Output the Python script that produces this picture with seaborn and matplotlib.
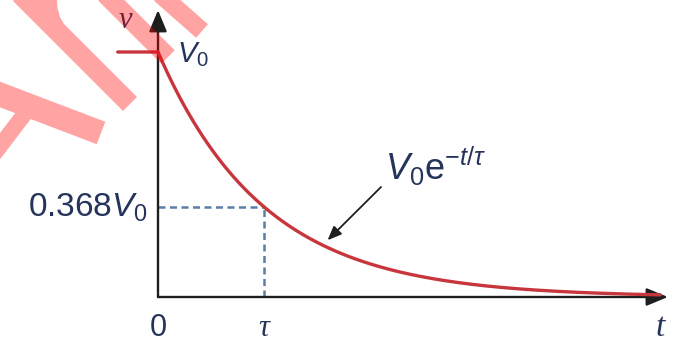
import numpy as np
import pandas as pd
import matplotlib
matplotlib.use("Agg")
import matplotlib.pyplot as plt
import seaborn as sns
from matplotlib.path import Path
from matplotlib.patches import PathPatch

sns.set_theme(style="white")
plt.rcParams["font.family"] = ["Liberation Sans", "DejaVu Sans"]
plt.rcParams["mathtext.fontset"] = "custom"
plt.rcParams["mathtext.rm"] = "Liberation Sans"
plt.rcParams["mathtext.it"] = "Liberation Sans:italic"
plt.rcParams["mathtext.bf"] = "Liberation Sans:bold"

# Circuit values (normalised units: V0 = 1, tau = 1)
V0 = 1.0
tau = 1.0
decay_frac = 0.368          # v(tau) / V0
t_before = -0.38            # initial steady value shown before switching
t_end = 4.74 * tau
t_axis_end = 4.81 * tau
v_axis_end = 1.171 * V0

tick_labels = ["0", r"$\tau$"]

# Natural response of the RC circuit: v(t) = V0 exp(-t/tau)
t_decay = np.linspace(0.0, t_end, 300)
curve = pd.DataFrame({
    "t": np.concatenate([[t_before], t_decay]),
    "v": np.concatenate([[V0], V0 * np.exp(-t_decay / tau)]),
})

TXT = "#25345a"
RED = "#c8363d"
DASH = "#5a7fa6"
AX = "#1e1e1e"

fig = plt.figure(figsize=(6.81, 3.43), dpi=100)
ax = fig.add_axes([0, 0, 1, 1])
ax.set_xlim(-158 / 106, (681 - 158) / 106)
ax.set_ylim((297 - 343) / 245, 297 / 245)
ax.axis("off")

# axes with arrow heads
arrow_kw = dict(arrowstyle="-|>,head_length=0.65,head_width=0.27",
                mutation_scale=20, lw=1.7, color=AX, shrinkA=0, shrinkB=0)
ax.annotate("", xy=(0, v_axis_end), xytext=(0, 0), arrowprops=arrow_kw, zorder=2)
ax.annotate("", xy=(t_axis_end, 0), xytext=(0, 0), arrowprops=arrow_kw, zorder=2)

# dashed guides at t = tau
ax.plot([0, tau], [decay_frac * V0] * 2, color=DASH, lw=1.8,
        dashes=(2.8, 1.8), zorder=1)
ax.plot([tau, tau], [0, decay_frac * V0], color=DASH, lw=1.8,
        dashes=(2.8, 1.8), zorder=1)

# the response curve
sns.lineplot(data=curve, x="t", y="v", ax=ax, color=RED, lw=2.4,
             sort=False, estimator=None, zorder=3)
ax.set_xlabel("")
ax.set_ylabel("")

# labels
ax.text(-0.31, 1.13, "v", family="Liberation Serif", style="italic",
        fontsize=22, color=TXT, ha="center", va="center")
ax.text(0.18, 0.959, r"$V_0$", fontsize=21, color=TXT, ha="left", va="baseline")
ax.text(-0.094, 0.3265, r"0.368$V_0$", fontsize=24, color=TXT,
        ha="right", va="baseline")
ax.text(0, -0.159, tick_labels[0], fontsize=22, color=TXT,
        ha="center", va="baseline")
ax.text(tau, -0.159, "τ", family="Liberation Serif", style="italic",
        fontsize=22, color=TXT, ha="center", va="baseline")
ax.text(4.74, -0.16, "t", family="Liberation Serif", style="italic",
        fontsize=24, color=TXT, ha="center", va="baseline")

# formula label with pointer
ax.text(2.14, 0.478, r"$V_0\mathrm{e}^{-t/\tau}$", fontsize=26, color=TXT,
        ha="left", va="baseline")
t_tip = 1.6
ax.annotate("", xy=(t_tip, V0 * np.exp(-t_tip / tau) + 0.03),
            xytext=(2.104, 0.449),
            arrowprops=dict(arrowstyle="-|>,head_length=0.6,head_width=0.25",
                            mutation_scale=14, lw=1.3, color=AX,
                            shrinkA=0, shrinkB=0), zorder=4)

# translucent watermark overlay, in pixel units of the canvas
wm = fig.add_axes([0, 0, 1, 1])
wm.set_xlim(0, 681)
wm.set_ylim(343, 0)
wm.axis("off")
wm.patch.set_alpha(0)


def ccw(poly):
    poly = np.asarray(poly, float)
    x, y = poly[:, 0], poly[:, 1]
    area = 0.5 * np.sum(x * np.roll(y, -1) - np.roll(x, -1) * y)
    return poly if area > 0 else poly[::-1]


def band(p0, p1, w):
    p0, p1 = np.asarray(p0, float), np.asarray(p1, float)
    d = (p1 - p0) / np.hypot(*(p1 - p0))
    n = np.array([-d[1], d[0]]) * w / 2
    return ccw([p0 + n, p1 + n, p1 - n, p0 - n])


shapes = [
    band((20, -6), (130, 104), 19.8),
    ccw([(34, -6), (57, -6), (57, 0), (57.5, 8), (60, 17), (64, 24), (68, 28)]),
    band((105, -6), (168, 57), 19),
    band((160, -6), (202, 31), 18),
    band((-5, 92.6), (101, 133), 24),
    band((26, 112), (-6, 154), 16),
]
verts, codes = [], []
for s in shapes:
    verts.extend(list(s) + [s[0]])
    codes.extend([Path.MOVETO] + [Path.LINETO] * (len(s) - 1) + [Path.CLOSEPOLY])
wm.add_patch(PathPatch(Path(verts, codes), facecolor="#ff0000", edgecolor="none",
                       alpha=0.36, zorder=10))

fig.savefig("out.png", dpi=100)
